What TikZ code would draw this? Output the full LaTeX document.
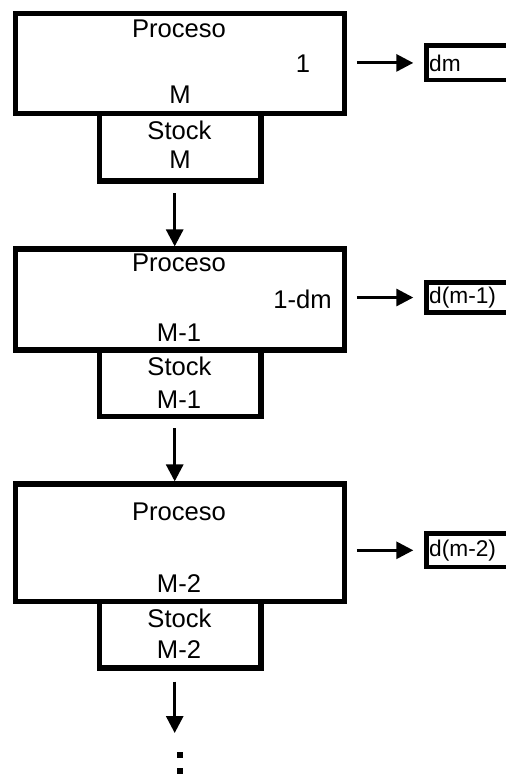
\documentclass[tikz,border=0pt]{standalone}
\usepackage{fontspec}
\setmainfont{Liberation Sans}
\usetikzlibrary{arrows.meta}

\begin{document}
\begin{tikzpicture}[x=0.5pt,y=-0.5pt,
  caja/.style={draw,line width=2.6pt,inner sep=0pt},
  salida/.style={draw,line width=2.4pt,anchor=west,inner xsep=1.4pt,inner ysep=0pt,text width=42pt,align=left,font=\fontsize{11.35}{13}\selectfont},
  txt/.style={inner sep=0pt,anchor=base,font=\fontsize{12.8}{15}\selectfont},
  flecha/.style={line width=1.5pt,-{Triangle[length=8.5pt,width=8.5pt]}},
  punto/.style={fill,inner sep=0pt,minimum size=3pt}]
\useasboundingbox (0,0) rectangle (506,784);
\clip (0,0) rectangle (506,784);
\node[caja,minimum width=164.5pt,minimum height=50.25pt] (p1) at (180,63.6) {};
\node[caja,minimum width=80.75pt,minimum height=33.75pt] (s1) at (180.25,147.25) {};
\node[caja,minimum width=164.5pt,minimum height=50.5pt] (p2) at (180,299.5) {};
\node[caja,minimum width=80.75pt,minimum height=33.25pt] (s2) at (180.25,383.25) {};
\node[caja,minimum width=164.5pt,minimum height=58.75pt] (p3) at (180,542.75) {};
\node[caja,minimum width=80.75pt,minimum height=33.25pt] (s3) at (180.25,634.75) {};
\node[txt] (t1) at (179,37) {Proceso};
\node[txt] (u1) at (303,72) {1};
\node[txt] (m1) at (180,103.5) {M};
\node[txt] (k1) at (179.5,139) {Stock};
\node[txt] (n1) at (180,168.5) {M};
\node[txt] (t2) at (179,271.7) {Proceso};
\node[txt,anchor=base east] (u2) at (332,308) {1-dm};
\node[txt] (m2) at (179,341.7) {M-1};
\node[txt] (k2) at (179.5,375) {Stock};
\node[txt] (n2) at (179,408) {M-1};
\node[txt] (t3) at (179,520) {Proceso};
\node[txt] (m3) at (179,592) {M-2};
\node[txt] (k3) at (179.5,627) {Stock};
\node[txt] (n3) at (179,658) {M-2};
\node[salida,minimum height=17.1pt] (d1) at (424,62.9) {dm};
\node[salida,minimum height=15pt] (d2) at (424,297.5) {d(m-1)};
\node[salida,minimum height=16.7pt] (d3) at (424,550.3) {d(m-2)};
\draw[flecha,shorten <=4.9pt,shorten >=5.35pt] (d1.west -| p1.east) -- (d1.west);
\draw[flecha,shorten <=4.9pt,shorten >=5.35pt] (d2.west -| p2.east) -- (d2.west);
\draw[flecha,shorten <=4.9pt,shorten >=5.35pt] (d3.west -| p3.east) -- (d3.west);
\coordinate (a1) at (174.7,193.3);
\coordinate (a2) at (174.7,428);
\coordinate (a3) at (174.7,681.7);
\coordinate (b3) at (174.7,733);
\draw[flecha] (a1) -- (p2.north -| a1);
\draw[flecha] (a2) -- (p3.north -| a2);
\draw[flecha] (a3) -- (b3);
\node[punto] (c1) at (180,754.5) {};
\node[punto] (c2) at (180,770.5) {};
\end{tikzpicture}
\end{document}
